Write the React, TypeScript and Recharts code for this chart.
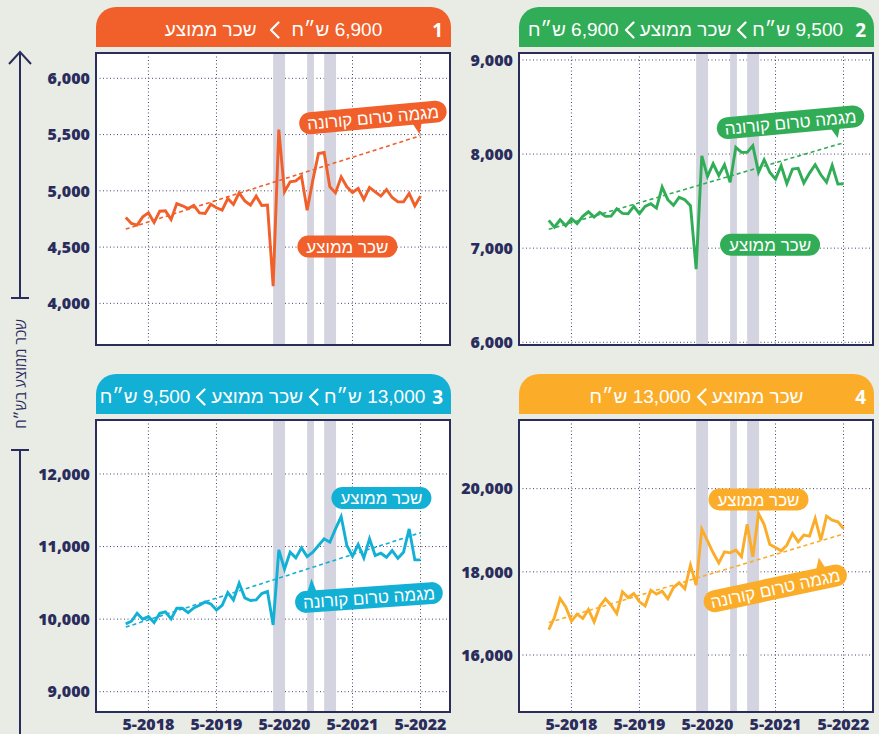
import React from 'react';
import { LineChart, Line, XAxis, YAxis, CartesianGrid, ReferenceArea, ReferenceDot } from 'recharts';

// ---------- data ----------
const MONTHS = [
  '1-2018', '2-2018', '3-2018', '4-2018', '5-2018', '6-2018', '7-2018', '8-2018', '9-2018', '10-2018', '11-2018', '12-2018',
  '1-2019', '2-2019', '3-2019', '4-2019', '5-2019', '6-2019', '7-2019', '8-2019', '9-2019', '10-2019', '11-2019', '12-2019',
  '1-2020', '2-2020', '3-2020', '4-2020', '5-2020', '6-2020', '7-2020', '8-2020', '9-2020', '10-2020', '11-2020', '12-2020',
  '1-2021', '2-2021', '3-2021', '4-2021', '5-2021', '6-2021', '7-2021', '8-2021', '9-2021', '10-2021', '11-2021', '12-2021',
  '1-2022', '2-2022', '3-2022', '4-2022', '5-2022',
];
const X_TICKS = [4, 16, 28, 40, 52];
const X_TICK_LABELS = ['5-2018', '5-2019', '5-2020', '5-2021', '5-2022'];
const LOCKDOWNS: [number, number][] = [[26, 28.1], [32, 33.2], [35, 37.1]];

const WAGE_LOW = [4763, 4710, 4695, 4769, 4804, 4719, 4819, 4822, 4745, 4887, 4867, 4843, 4870, 4804, 4799, 4881, 4849, 4828, 4932, 4879, 4982, 4911, 4873, 4953, 4870, 4873, 4153, 5545, 4991, 5080, 5089, 5130, 4828, 5095, 5332, 5341, 5036, 4982, 5124, 5036, 4985, 5021, 4923, 5030, 4991, 4953, 5012, 4941, 4902, 4902, 4976, 4867, 4953];
const WAGE_MID_LOW = [7295, 7224, 7302, 7238, 7313, 7260, 7338, 7387, 7331, 7380, 7338, 7341, 7419, 7370, 7366, 7444, 7366, 7444, 7472, 7426, 7649, 7515, 7455, 7540, 7515, 7451, 6778, 7982, 7763, 7897, 7773, 7887, 7699, 8071, 8018, 8018, 8089, 7805, 7940, 7805, 7734, 7876, 7685, 7841, 7848, 7692, 7798, 7887, 7780, 7702, 7880, 7681, 7685];
const WAGE_MID_HIGH = [9934, 9971, 10081, 9999, 10035, 9953, 10081, 10100, 10003, 10150, 10150, 10090, 10155, 10191, 10237, 10210, 10127, 10191, 10366, 10265, 10495, 10293, 10256, 10265, 10352, 10380, 9920, 10954, 10688, 10922, 10844, 10982, 10862, 10922, 11014, 11106, 11060, 11243, 11413, 11014, 10867, 11028, 10844, 11106, 10876, 10908, 10853, 10945, 10839, 10922, 11243, 10816, 10816];
const WAGE_HIGH = [16613, 16902, 17359, 17158, 16814, 16982, 16878, 17094, 16798, 17174, 17351, 17198, 16998, 17519, 17383, 17479, 17279, 17182, 17559, 17463, 17535, 17351, 17623, 17735, 17591, 18160, 17679, 19026, 18746, 18457, 18216, 18481, 18457, 18521, 18361, 19146, 18361, 19403, 19138, 18657, 18585, 18505, 18641, 18922, 18721, 18882, 18858, 19283, 18762, 19339, 19243, 19202, 19042];

const TREND_LOW = [4660, 5490];
const TREND_MID_LOW = [7200, 8120];
const TREND_MID_HIGH = [9890, 11190];
const TREND_HIGH = [16780, 18910];

const Y_TICKS_LOW = [4000, 4500, 5000, 5500, 6000];
const Y_TICKS_MID_LOW = [6000, 7000, 8000, 9000];
const Y_TICKS_MID_HIGH = [9000, 10000, 11000, 12000];
const Y_TICKS_HIGH = [16000, 18000, 20000];

const LABEL_WAGE = 'שכר ממוצע';
const LABEL_TREND = 'מגמה טרום קורונה';
const SIDE_LABEL = 'שכר ממוצע בש״ח';

const TITLE_LOW = ['שכר ממוצע', '6,900 ש״ח'];
const TITLE_MID_LOW = ['6,900 ש״ח', 'שכר ממוצע', '9,500 ש״ח'];
const TITLE_MID_HIGH = ['9,500 ש״ח', 'שכר ממוצע', '13,000 ש״ח'];
const TITLE_HIGH = ['13,000 ש״ח', 'שכר ממוצע'];

// ---------- styles ----------
const NAVY = '#2a2d5c';
const BG = '#e9ebe5';
const BAND = '#d3d4df';
const FONT = '"Open Sans", "Liberation Sans", "DejaVu Sans", sans-serif';
const HEB_FONT = '"Liberation Sans", "Open Sans", sans-serif';
const X_DOMAIN: [number, number] = [-5.25, 57.2];

type Pill = {
  text: string; x: number; y: number; w: number; h: number; angle: number;
  ptr?: { side: 'top' | 'bottom'; x: number; tip: number };
};

type PanelCfg = {
  num: string; color: string; title: string[]; gap: number; padR: number;
  values: number[]; trend: number[]; domain: [number, number]; yTicks: number[];
  left: number; top: number; bottom: boolean; pills: Pill[];
};

const PANELS: PanelCfg[] = [
  {
    num: '1', color: '#f15f2a', title: TITLE_LOW, gap: 12, padR: 0,
    values: WAGE_LOW, trend: TREND_LOW, domain: [3630, 6225], yTicks: Y_TICKS_LOW,
    left: 96, top: 53, bottom: false,
    pills: [
      { text: LABEL_TREND, x: 43.6, y: 5652, w: 148, h: 22, angle: -5.3, ptr: { side: 'bottom', x: 44, tip: 21 } },
      { text: LABEL_WAGE, x: 39.1, y: 4505, w: 100, h: 22, angle: 0 },
    ],
  },
  {
    num: '2', color: '#31ad57', title: TITLE_MID_LOW, gap: 5, padR: 22,
    values: WAGE_MID_LOW, trend: TREND_MID_LOW, domain: [5971, 9074], yTicks: Y_TICKS_MID_LOW,
    left: 519, top: 53, bottom: false,
    pills: [
      { text: LABEL_TREND, x: 42.65, y: 8338, w: 148, h: 22, angle: -5.3, ptr: { side: 'bottom', x: 44.5, tip: 20 } },
      { text: LABEL_WAGE, x: 39.04, y: 7036, w: 100, h: 22, angle: 0 },
    ],
  },
  {
    num: '3', color: '#13b0d6', title: TITLE_MID_HIGH, gap: 5, padR: 22,
    values: WAGE_MID_HIGH, trend: TREND_MID_HIGH, domain: [8720, 12744], yTicks: Y_TICKS_MID_HIGH,
    left: 96, top: 420, bottom: true,
    pills: [
      { text: LABEL_WAGE, x: 45.1, y: 11669, w: 100, h: 22, angle: 0 },
      { text: LABEL_TREND, x: 42.9, y: 10298, w: 148, h: 22, angle: -4, ptr: { side: 'top', x: -57, tip: -23 } },
    ],
  },
  {
    num: '4', color: '#fbad2a', title: TITLE_HIGH, gap: 5, padR: 0,
    values: WAGE_HIGH, trend: TREND_HIGH, domain: [14630, 21650], yTicks: Y_TICKS_HIGH,
    left: 519, top: 420, bottom: true,
    pills: [
      { text: LABEL_WAGE, x: 37.0, y: 19740, w: 100, h: 22, angle: 0 },
      { text: LABEL_TREND, x: 39.96, y: 17604, w: 146, h: 22, angle: -12, ptr: { side: 'top', x: 48, tip: -21 } },
    ],
  },
];

const Y_AXIS_W = 62;
const PLOT_W = 354;
const PLOT_H = 292;
const M_TOP = 10;
const M_BOTTOM = 10;

const Chevron = () => (
  <svg width={11} height={18} viewBox="0 0 11 18" style={{ display: 'block' }}>
    <polyline points="9.5,1.5 2,9 9.5,16.5" fill="none" stroke="#fff" strokeWidth={2.2} strokeLinecap="round" strokeLinejoin="round" />
  </svg>
);

const pillShape = (p: Pill, color: string) => (props: any) => {
  const { cx, cy } = props;
  if (cx == null || cy == null) return null;
  const { w, h, angle, ptr } = p;
  let tri: string | null = null;
  if (ptr) {
    if (ptr.side === 'bottom') {
      tri = `${ptr.x - 5},${h / 2 - 1} ${ptr.x + 4},${h / 2 - 1} ${ptr.x + 1},${ptr.tip}`;
    } else {
      tri = `${ptr.x - 4},${-h / 2 + 1} ${ptr.x + 5},${-h / 2 + 1} ${ptr.x + 1},${ptr.tip}`;
    }
  }
  return (
    <g transform={`translate(${cx},${cy}) rotate(${angle})`}>
      <rect x={-w / 2} y={-h / 2} width={w} height={h} rx={h / 2} ry={h / 2} fill={color} />
      {tri && <polygon points={tri} fill={color} />}
      <text x={0} y={0} dy="0.37em" textAnchor="middle" fill="#fff" fontSize={17} fontFamily={HEB_FONT}>{p.text}</text>
    </g>
  );
};

function Panel({ cfg }: { cfg: PanelCfg }) {
  const last = MONTHS.length - 1;
  const rows = MONTHS.map((m, k) => ({
    i: k,
    m,
    v: cfg.values[k],
    t: k === 0 ? cfg.trend[0] : k === last ? cfg.trend[1] : null,
  }));
  const barTop = cfg.top - 46;
  const chartH = M_TOP + PLOT_H + (cfg.bottom ? 30 : M_BOTTOM);
  const tickStyle = { fill: NAVY, fontSize: 16, fontWeight: 800, fontFamily: FONT };
  return (
    <>
      <div
        style={{
          position: 'absolute', left: cfg.left, top: barTop, width: PLOT_W + 1, height: 40,
          background: cfg.color, borderRadius: '20px 20px 0 0', color: '#fff', fontFamily: HEB_FONT,
        }}
      >
        <div
          style={{
            position: 'absolute', left: 0, right: 0, top: 0, bottom: 0, paddingRight: cfg.padR, paddingTop: 6,
            boxSizing: 'border-box',
            display: 'flex', alignItems: 'center', justifyContent: 'center', gap: cfg.gap, fontSize: 19,
          }}
        >
          {cfg.title.map((part, k) => (
            <React.Fragment key={k}>
              {k > 0 && <Chevron />}
              <span style={{ direction: 'rtl', unicodeBidi: 'isolate', whiteSpace: 'nowrap' }}>{part}</span>
            </React.Fragment>
          ))}
        </div>
        <div
          style={{
            position: 'absolute', right: 8, top: 0, bottom: 0, paddingTop: 6, boxSizing: 'border-box', display: 'flex',
            alignItems: 'center', fontWeight: 700, fontSize: 19, fontFamily: FONT,
          }}
        >
          {cfg.num}
        </div>
      </div>
      <div style={{ position: 'absolute', left: cfg.left - Y_AXIS_W, top: cfg.top - M_TOP }}>
        <LineChart
          width={Y_AXIS_W + PLOT_W + 2} height={chartH} data={rows}
          margin={{ top: M_TOP, right: 2, left: 0, bottom: cfg.bottom ? 0 : M_BOTTOM }}
        >
          <CartesianGrid stroke="#44466f" strokeDasharray="1 2.5" fill="#ffffff" fillOpacity={1} />
          <XAxis
            dataKey="i" type="number" domain={X_DOMAIN} ticks={X_TICKS} allowDataOverflow interval={0}
            tickFormatter={(v: number) => X_TICK_LABELS[X_TICKS.indexOf(v)] ?? ''}
            hide={!cfg.bottom} height={30} axisLine={false} tickLine={false} tickSize={0} tickMargin={7}
            tick={tickStyle}
          />
          <YAxis
            type="number" domain={cfg.domain} ticks={cfg.yTicks} allowDataOverflow interval={0}
            tickFormatter={(v: number) => v.toLocaleString('en-US')}
            width={Y_AXIS_W} axisLine={false} tickLine={false} tickSize={0} tickMargin={6} tick={tickStyle}
          />
          {LOCKDOWNS.map(([a, b], k) => (
            <ReferenceArea key={k} x1={a} x2={b} fill={BAND} fillOpacity={1} stroke="none" />
          ))}
          <ReferenceArea
            x1={X_DOMAIN[0]} x2={X_DOMAIN[1]} y1={cfg.domain[0]} y2={cfg.domain[1]}
            fill="none" stroke={NAVY} strokeWidth={2} ifOverflow="visible"
          />
          <Line
            dataKey="t" type="linear" connectNulls stroke={cfg.color} strokeWidth={1.6} strokeDasharray="4 3"
            dot={false} activeDot={false} isAnimationActive={false}
          />
          <Line
            dataKey="v" type="linear" stroke={cfg.color} strokeWidth={2.9} dot={false} activeDot={false}
            isAnimationActive={false}
          />
          {cfg.pills.map((p, k) => (
            <ReferenceDot key={k} x={p.x} y={p.y} r={1} ifOverflow="visible" shape={pillShape(p, cfg.color)} />
          ))}
        </LineChart>
      </div>
    </>
  );
}

export default function App() {
  return (
    <div style={{ position: 'relative', width: 879, height: 734, background: BG, overflow: 'hidden', fontFamily: FONT }}>
      <style>{`html,body{margin:0;padding:0;background:${BG};}`}</style>
      <svg width={40} height={734} style={{ position: 'absolute', left: 0, top: 0 }}>
        <line x1={20} y1={52} x2={20} y2={298} stroke={NAVY} strokeWidth={2} />
        <polyline points="9,64 20,52 31,64" fill="none" stroke={NAVY} strokeWidth={2} />
        <line x1={11} y1={298} x2={29} y2={298} stroke={NAVY} strokeWidth={2} />
        <line x1={11} y1={450} x2={29} y2={450} stroke={NAVY} strokeWidth={2} />
        <line x1={20} y1={450} x2={20} y2={734} stroke={NAVY} strokeWidth={2} />
      </svg>
      <div
        style={{
          position: 'absolute', left: 20, top: 374, transform: 'translate(-50%, -50%) rotate(-90deg)',
          whiteSpace: 'nowrap', color: NAVY, fontSize: 15, direction: 'rtl',
        }}
      >
        {SIDE_LABEL}
      </div>
      {PANELS.map((cfg) => (
        <Panel key={cfg.num} cfg={cfg} />
      ))}
    </div>
  );
}
